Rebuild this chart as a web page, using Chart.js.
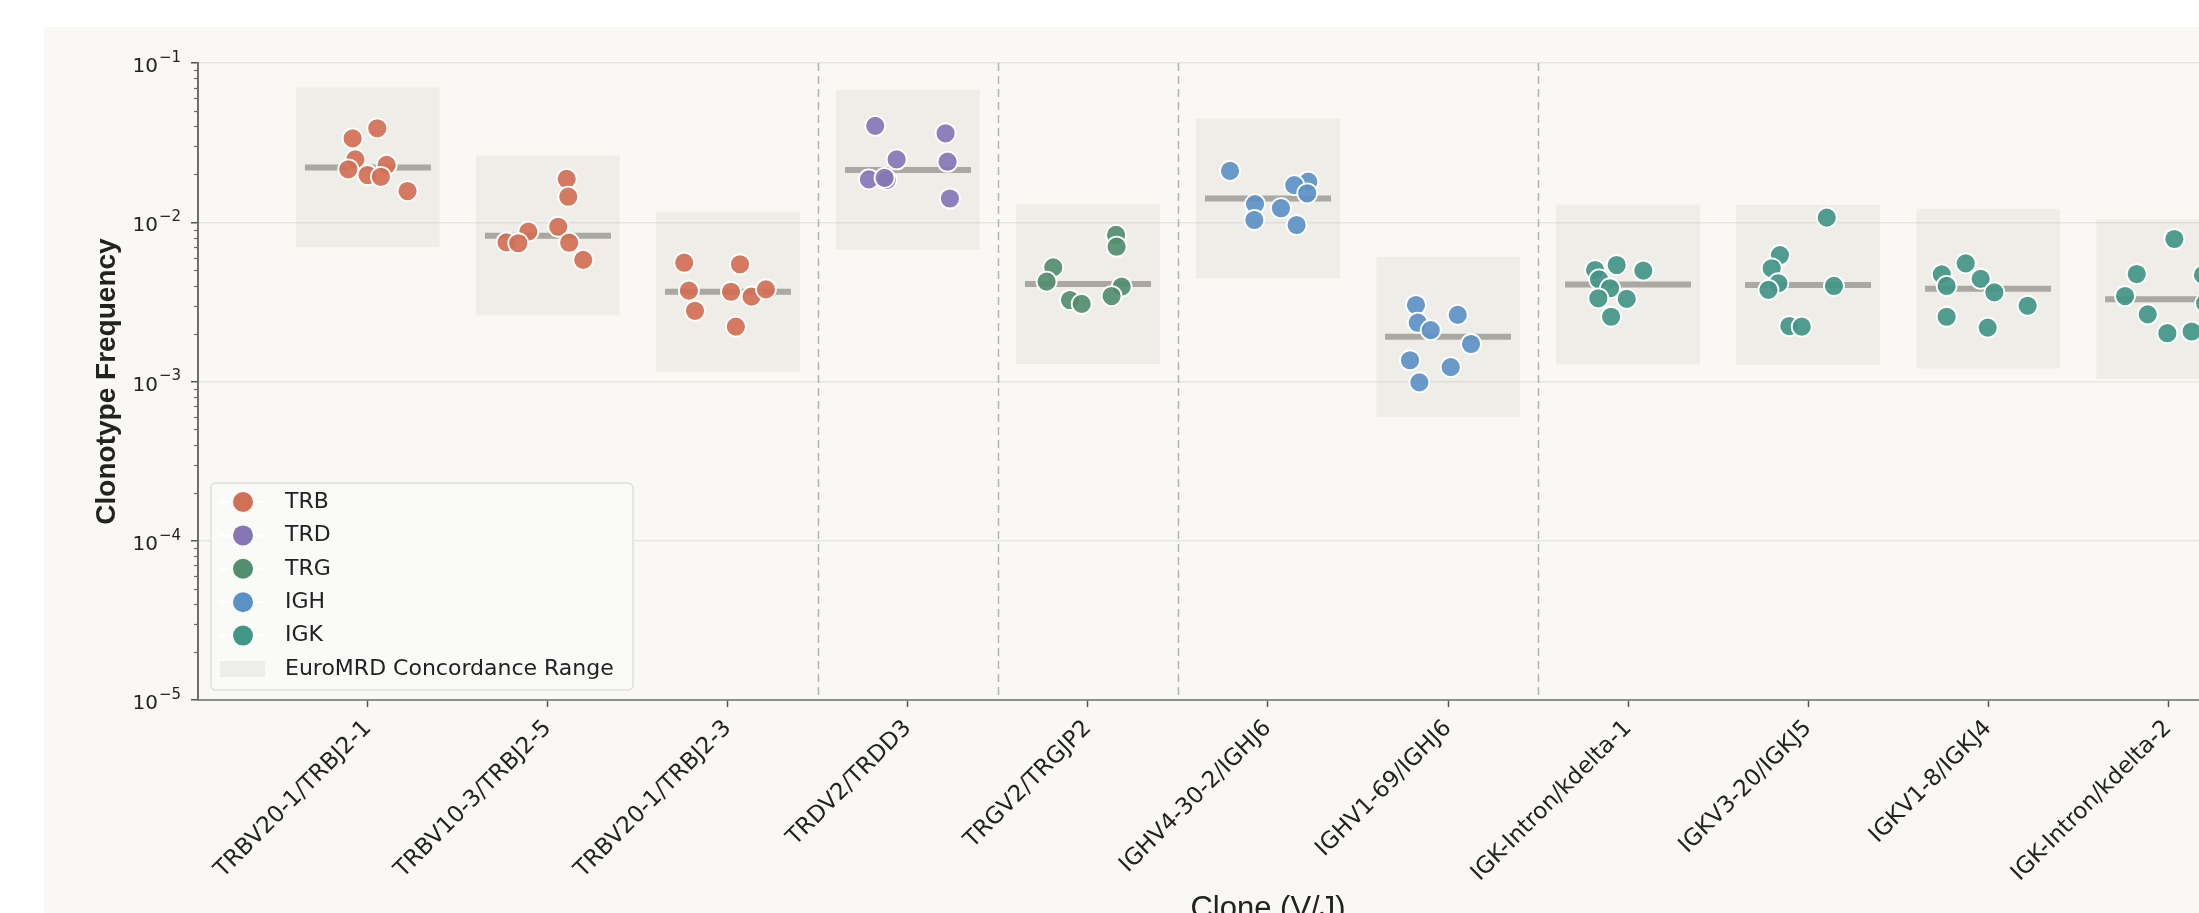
<!DOCTYPE html>
<html>
<head>
<meta charset="utf-8">
<script src="https://cdn.jsdelivr.net/npm/chart.js@4.4.1/dist/chart.umd.min.js"></script>
<style>
  html, body { margin: 0; padding: 0; background: #ffffff; overflow: hidden; width: 2199px; height: 913px; }
  #wrap { position: absolute; left: 44px; top: 27px; width: 2294px; height: 920px; background: #f9f8f4; }
  #chart { display: block; }
</style>
</head>
<body>
<div id="wrap"><canvas id="chart" width="2294" height="920"></canvas></div>
<script>
const categories = [
    'TRBV20-1/TRBJ2-1', 'TRBV10-3/TRBJ2-5', 'TRBV20-1/TRBJ2-3', 'TRDV2/TRDD3',
    'TRGV2/TRGJP2', 'IGHV4-30-2/IGHJ6', 'IGHV1-69/IGHJ6', 'IGK-Intron/kdelta-1',
    'IGKV3-20/IGKJ5', 'IGKV1-8/IGKJ4', 'IGK-Intron/kdelta-2'
]
const families = ['TRB', 'TRD', 'TRG', 'IGH', 'IGK']
const familyColors = ['#d27055', '#8676b6', '#528e70', '#5c91c4', '#429688']
// which family each clone belongs to (index into families)
const cloneFamily = [0, 0, 0, 1, 2, 3, 3, 4, 4, 4, 4]

const medians = [0.0221, 0.00824, 0.00366, 0.0213, 0.00409, 0.01412, 0.00191, 0.00407, 0.00404, 0.00383, 0.00328]
const rangeLow = [0.00699, 0.00261, 0.001157, 0.00674, 0.001293, 0.004465, 0.000604, 0.001287, 0.001278, 0.001211, 0.001037]
const rangeHigh = [0.0699, 0.0261, 0.01157, 0.0674, 0.01293, 0.04465, 0.00604, 0.01287, 0.01278, 0.01211, 0.01037]

// replicate frequencies per clone
const freqs = [
    [0.0389, 0.0336, 0.0248, 0.0215, 0.0198, 0.0229, 0.0157, 0.0193],
    [0.0187, 0.01447, 0.00937, 0.00873, 0.00748, 0.00738, 0.00744, 0.0058],
    [0.00557, 0.00372, 0.00278, 0.00545, 0.00366, 0.00221, 0.00341, 0.00379],
    [0.0403, 0.0362, 0.0248, 0.024, 0.0186, 0.0184, 0.0141, 0.019],
    [0.00832, 0.00702, 0.00521, 0.00424, 0.00394, 0.00344, 0.00325, 0.00307],
    [0.021, 0.018, 0.0171, 0.0152, 0.013, 0.01225, 0.01033, 0.00961],
    [0.00302, 0.00262, 0.00234, 0.0021, 0.00172, 0.00136, 0.00123, 0.000988],
    [0.00501, 0.00539, 0.00497, 0.00438, 0.00385, 0.00333, 0.0033, 0.00255],
    [0.0107, 0.00622, 0.00514, 0.00414, 0.00376, 0.00398, 0.00223, 0.00221],
    [0.00552, 0.00471, 0.00398, 0.00441, 0.00363, 0.00299, 0.00255, 0.00218],
    [0.00785, 0.00473, 0.00344, 0.00264, 0.00201, 0.00206, 0.00467, 0.0031]
]
// strip plot jitter (fraction of a category)
const jitter = [
    [0.052, -0.085, -0.07, -0.109, -0.002, 0.104, 0.22, 0.072],
    [0.104, 0.113, 0.057, -0.109, -0.23, -0.165, 0.118, 0.196],
    [-0.243, -0.217, -0.183, 0.067, 0.017, 0.044, 0.131, 0.211],
    [-0.182, 0.209, -0.063, 0.22, -0.217, -0.118, 0.233, -0.13],
    [0.156, 0.159, -0.193, -0.23, 0.187, 0.131, -0.1, -0.035],
    [-0.211, 0.224, 0.146, 0.218, -0.072, 0.072, -0.076, 0.159],
    [-0.178, 0.054, -0.168, -0.096, 0.128, -0.211, 0.015, -0.159],
    [-0.183, -0.063, 0.085, -0.161, -0.1, -0.165, -0.007, -0.094],
    [0.104, -0.156, -0.202, -0.165, -0.22, 0.144, -0.104, -0.035],
    [-0.124, -0.257, -0.23, -0.041, 0.035, 0.22, -0.23, -0.002],
    [0.035, -0.174, -0.239, -0.113, -0.004, 0.131, 0.194, 0.206]
]

const separators = [2.5, 3.5, 4.5, 6.5]
const yDecades = [1e-5, 1e-4, 1e-3, 1e-2, 1e-1]
const yTickBase = '10'
const yTickExponents = ['\u22125', '\u22124', '\u22123', '\u22122', '\u22121']

function isDecade(v) {
    const l = Math.log10(v)
    return Math.abs(l - Math.round(l)) < 1e-9
}

function hexA(hex, a) {
    const n = parseInt(hex.slice(1), 16)
    return 'rgba(' + (n >> 16) + ',' + ((n >> 8) & 255) + ',' + (n & 255) + ',' + a + ')'
}

function familyPoints(fi) {
    const pts = []
    cloneFamily.forEach((f, c) => {
        if (f !== fi) return
        freqs[c].forEach((v, k) => pts.push({ x: c + jitter[c][k], y: v }))
    })
    return pts
}

const separatorPlugin = {
    id: 'separators',
    beforeDatasetsDraw(chart) {
        const { ctx, chartArea, scales } = chart
        ctx.save()
        ctx.strokeStyle = '#b4b4ae'
        ctx.lineWidth = 1.5
        ctx.setLineDash([8, 5])
        separators.forEach(s => {
            const x = Math.round(scales.x.getPixelForValue(s)) + 0.5
            ctx.beginPath()
            ctx.moveTo(x, chartArea.top)
            ctx.lineTo(x, chartArea.bottom)
            ctx.stroke()
        })
        ctx.restore()
    }
}

// minor log ticks plus the mathtext-like decade labels
const yAxisPlugin = {
    id: 'yAxisMarks',
    afterDraw(chart) {
        const { ctx, scales } = chart
        const y = scales.y
        ctx.save()
        ctx.strokeStyle = '#6a6a66'
        ctx.lineWidth = 1.2
        y.ticks.forEach(t => {
            if (isDecade(t.value)) return
            const py = Math.round(y.getPixelForValue(t.value)) + 0.5
            ctx.beginPath()
            ctx.moveTo(y.right - 4, py)
            ctx.lineTo(y.right, py)
            ctx.stroke()
        })
        ctx.fillStyle = '#222222'
        ctx.textAlign = 'right'
        ctx.textBaseline = 'middle'
        const xr = y.right - 17
        yDecades.forEach((d, i) => {
            const py = y.getPixelForValue(d)
            ctx.font = '15px "DejaVu Sans"'
            const ew = ctx.measureText(yTickExponents[i]).width
            ctx.fillText(yTickExponents[i], xr, py - 5)
            ctx.font = '20px "DejaVu Sans"'
            ctx.fillText(yTickBase, xr - ew - 1, py + 4)
        })
        ctx.restore()
    }
}

const legendPlugin = {
    id: 'cloneLegend',
    afterDraw(chart) {
        const ctx = chart.ctx
        ctx.save()
        ctx.fillStyle = 'rgba(250,250,247,0.92)'
        ctx.strokeStyle = '#e0dfd9'
        ctx.lineWidth = 1.5
        ctx.beginPath()
        ctx.roundRect(167, 456, 422, 207, 5)
        ctx.fill()
        ctx.stroke()
        ctx.font = '22px "DejaVu Sans"'
        ctx.textBaseline = 'middle'
        ctx.textAlign = 'left'
        families.forEach((f, i) => {
            const y = 475 + i * 33.4
            ctx.strokeStyle = '#ffffff'
            ctx.lineWidth = 2
            ctx.beginPath()
            ctx.moveTo(176, y)
            ctx.lineTo(222, y)
            ctx.stroke()
            ctx.fillStyle = familyColors[i]
            ctx.beginPath()
            ctx.arc(199, y, 10, 0, Math.PI * 2)
            ctx.fill()
            ctx.fillStyle = '#222222'
            ctx.fillText(f, 241, y)
        })
        ctx.fillStyle = 'rgba(200,200,190,0.25)'
        ctx.fillRect(176, 634, 45, 16)
        ctx.fillStyle = '#222222'
        ctx.fillText('EuroMRD Concordance Range', 241, 642)
        ctx.restore()
    }
}

function renderChart() {
    const ctx = document.getElementById('chart').getContext('2d')

    const pointSets = families.map((f, i) => ({
        type: 'scatter',
        label: f,
        data: familyPoints(i),
        backgroundColor: hexA(familyColors[i], 0.92),
        borderColor: '#ffffff',
        borderWidth: 1.8,
        pointRadius: 10,
        order: 0
    }))

    const medianSet = {
        type: 'scatter',
        label: 'median',
        data: medians.map((m, c) => ({ x: c, y: m })),
        pointStyle: 'line',
        pointRadius: 63,
        borderColor: '#a9a8a2',
        borderWidth: 6,
        order: 1
    }

    const rangeSet = {
        type: 'bar',
        label: 'EuroMRD Concordance Range',
        data: rangeLow.map((lo, c) => ({ x: c, y: [lo, rangeHigh[c]] })),
        backgroundColor: 'rgba(200,200,190,0.22)',
        borderWidth: 0,
        barThickness: 143,
        order: 2
    }

    const chart = new Chart(ctx, {
        type: 'scatter',
        data: { datasets: [...pointSets, medianSet, rangeSet] },
        options: {
            responsive: false,
            animation: false,
            events: [],
            devicePixelRatio: 1,
            layout: { autoPadding: false, padding: { top: 36, left: 0, right: 0, bottom: 0 } },
            plugins: { legend: { display: false }, tooltip: { enabled: false } },
            scales: {
                x: {
                    type: 'linear',
                    min: -0.944,
                    max: 10.944,
                    offset: false,
                    afterBuildTicks: scale => { scale.ticks = categories.map((c, i) => ({ value: i })) },
                    afterFit: scale => { scale.height = 247 },
                    ticks: {
                        autoSkip: false,
                        minRotation: 45,
                        maxRotation: 45,
                        padding: 8,
                        color: '#222222',
                        font: { family: 'DejaVu Sans', size: 23 },
                        callback: v => categories[v] ?? ''
                    },
                    grid: { offset: false, drawOnChartArea: false, drawTicks: true, tickLength: 7, tickColor: '#555555', tickWidth: 1.5 },
                    border: { display: true, color: '#8f8f8a', width: 2 },
                    title: {
                        display: true,
                        text: 'Clone (V/J)',
                        color: '#222222',
                        font: { family: 'Liberation Sans', size: 31 },
                        padding: { top: 0, bottom: 19 }
                    }
                },
                y: {
                    type: 'logarithmic',
                    min: 1e-5,
                    max: 1e-1,
                    afterBuildTicks: scale => {
                        const t = []
                        for (let e = -5; e < -1; e++) {
                            for (let m = 1; m < 10; m++) t.push({ value: m * Math.pow(10, e), major: m === 1 })
                        }
                        t.push({ value: 1e-1, major: true })
                        scale.ticks = t
                    },
                    afterFit: scale => { scale.width = 154 },
                    ticks: {
                        autoSkip: false,
                        padding: 10,
                        font: { family: 'DejaVu Sans', size: 20 },
                        callback: () => ''
                    },
                    grid: {
                        color: c => (c.tick && isDecade(c.tick.value)) ? '#e6e5df' : 'rgba(0,0,0,0)',
                        tickColor: c => (c.tick && isDecade(c.tick.value)) ? '#555555' : 'rgba(0,0,0,0)',
                        lineWidth: 1.5,
                        tickWidth: 1.5,
                        tickLength: 7
                    },
                    border: { display: true, color: '#6f6f6a', width: 2 },
                    title: {
                        display: true,
                        text: 'Clonotype Frequency',
                        color: '#222222',
                        font: { family: 'Liberation Sans', size: 28, weight: 'bold' },
                        padding: { top: 46, bottom: 0 }
                    }
                }
            }
        },
        plugins: [separatorPlugin, yAxisPlugin, legendPlugin]
    })
}

renderChart()
</script>
</body>
</html>
